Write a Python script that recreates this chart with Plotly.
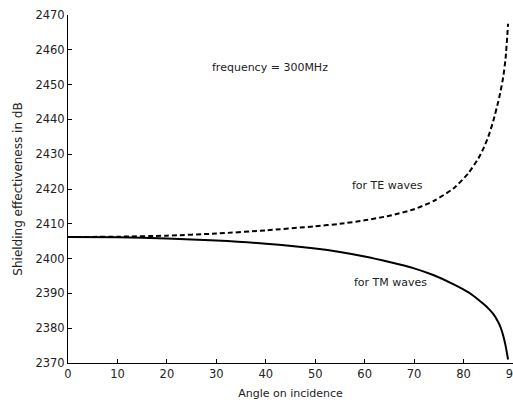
import plotly.graph_objects as go

angles = [0, 10, 20, 30, 40, 50, 55, 60, 65, 70, 74, 78, 81, 83, 84, 85, 86, 87, 87.5, 88, 88.5, 89]
te_values = [2406.2, 2406.3, 2406.6, 2407.2, 2408.1, 2409.3, 2410.0, 2411.0, 2412.3, 2414.2,
             2416.6, 2420.2, 2424.6, 2428.8, 2431.6, 2435.0, 2439.5, 2445.0, 2448.2, 2452.0,
             2457.5, 2467.5]
tm_values = [2406.2, 2406.1, 2405.8, 2405.2, 2404.3, 2402.9, 2401.9, 2400.6, 2399.0, 2397.2,
             2395.2, 2392.6, 2390.3, 2388.2, 2387.0, 2385.7, 2384.1, 2381.8, 2380.2, 2378.0,
             2375.0, 2371.0]
x_ticks = [0, 10, 20, 30, 40, 50, 60, 70, 80, 90]
y_ticks = [2370, 2380, 2390, 2400, 2410, 2420, 2430, 2440, 2450, 2460, 2470]

fig = go.Figure()
fig.add_trace(go.Scatter(x=angles, y=te_values, mode="lines", line_shape="spline",
                         line=dict(color="black", width=2, dash="5px,3px", smoothing=0.6), name="TE"))
fig.add_trace(go.Scatter(x=angles, y=tm_values, mode="lines", line_shape="spline",
                         line=dict(color="black", width=2, smoothing=0.6), name="TM"))

fam = "DejaVu Sans, Arial, sans-serif"
font = dict(family=fam, size=12, color="#222")
for x, y, t in [(28.7, 2455, "frequency = 300MHz"), (57, 2421, "for TE waves"),
                (57.4, 2393, "for TM waves")]:
    fig.add_annotation(x=x, y=y, text=t, showarrow=False, xanchor="left",
                       font=dict(family=fam, size=11, color="#222"))

fig.update_layout(
    width=513, height=406, showlegend=False,
    paper_bgcolor="white", plot_bgcolor="white",
    margin=dict(l=68, r=0, t=15, b=43),
    font=font,
)
fig.update_xaxes(range=[0, 90], tickvals=x_ticks, ticks="inside", ticklen=4, tickcolor="black",
                 showline=True, linecolor="black", linewidth=1, showgrid=False, zeroline=False,
                 automargin=False, ticklabeloverflow="allow", tickfont=dict(size=11.5),
                 title=dict(text="Angle on incidence", standoff=9, font=dict(size=11)))
fig.update_yaxes(range=[2370, 2470], tickvals=y_ticks, ticks="inside", ticklen=4, tickcolor="black",
                 showline=True, linecolor="black", linewidth=1, showgrid=False, zeroline=False,
                 automargin=False, ticklabeloverflow="allow", tickfont=dict(size=11.5),
                 title=dict(text="Shielding effectiveness in dB", standoff=10, font=dict(size=12)))

fig.write_html("out.html", config={"displayModeBar": False},
               post_script="document.body.style.margin='0px';document.body.style.overflow='hidden';")
